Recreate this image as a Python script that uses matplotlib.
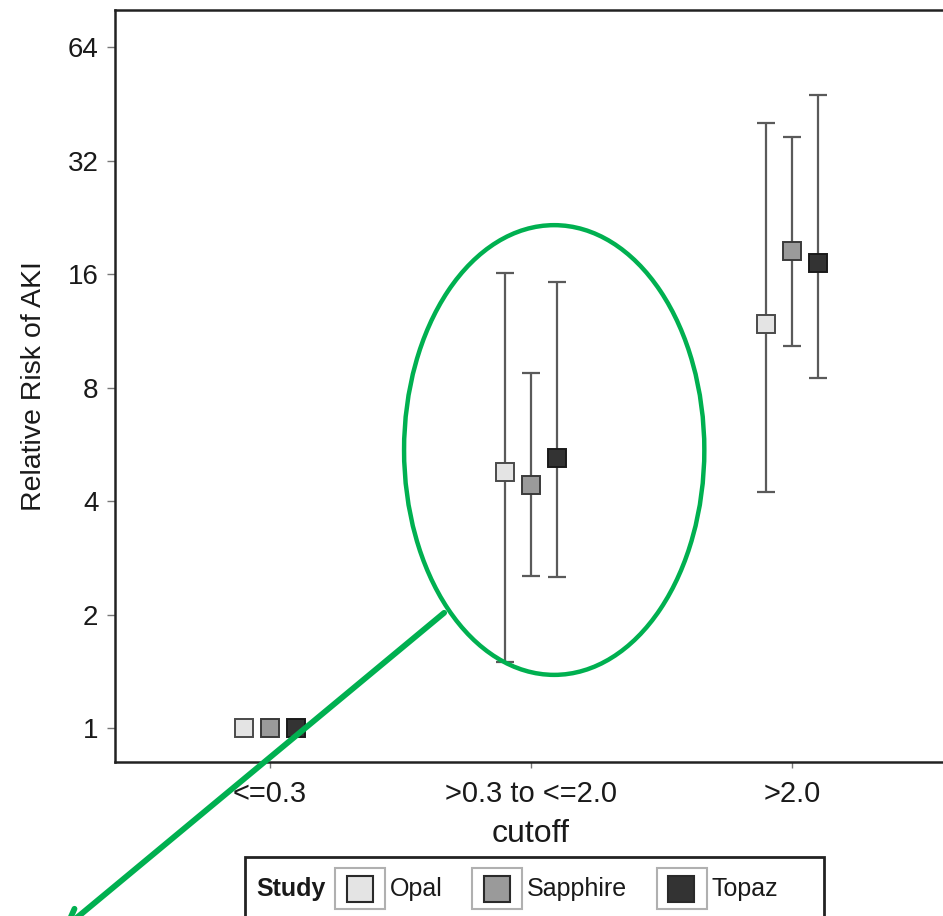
import numpy as np
import matplotlib
matplotlib.use("Agg")
import matplotlib.pyplot as plt
from matplotlib.patches import Ellipse, Rectangle
from matplotlib.offsetbox import (AnchoredOffsetbox, DrawingArea, HPacker,
                                  TextArea)

plt.rcParams["font.family"] = ["Liberation Sans", "DejaVu Sans"]

# relative risk of AKI per cutoff group and study (point, lower CI, upper CI)
cutoffs = ["<=0.3", ">0.3 to <=2.0", ">2.0"]
studies = ["Opal", "Sapphire", "Topaz"]
rr_opal = [1.0, 4.78, 11.8]
lo_opal = [1.0, 1.50, 4.23]
hi_opal = [1.0, 16.1, 40.2]
rr_sapphire = [1.0, 4.41, 18.4]
lo_sapphire = [1.0, 2.53, 10.3]
hi_sapphire = [1.0, 8.72, 37.0]
rr_topaz = [1.0, 5.21, 17.1]
lo_topaz = [1.0, 2.51, 8.49]
hi_topaz = [1.0, 15.2, 47.8]
y_ticks = [1, 2, 4, 8, 16, 32, 64]

study_data = [
    (rr_opal, lo_opal, hi_opal),
    (rr_sapphire, lo_sapphire, hi_sapphire),
    (rr_topaz, lo_topaz, hi_topaz),
]
fills = ["#e4e4e4", "#9a9a9a", "#333333"]
edges = ["#4a4a4a", "#3a3a3a", "#1a1a1a"]
offsets = [-0.1, 0.0, 0.1]

fig = plt.figure(figsize=(9.43, 9.16), dpi=100)
ax = fig.add_axes([0.122, 0.168, 0.882, 0.821])

x = np.arange(len(cutoffs))
for (rr, lo, hi), fc, ec, off in zip(study_data, fills, edges, offsets):
    rr = np.array(rr)
    err = np.vstack([rr - np.array(lo), np.array(hi) - rr])
    has_ci = err.sum(axis=0) > 0
    ax.errorbar(x[has_ci] + off, rr[has_ci], yerr=err[:, has_ci], fmt="none",
                ecolor="#5a5a5a", elinewidth=1.6, capsize=6.5, capthick=1.6,
                zorder=2)
    ax.plot(x + off, rr, linestyle="none", marker="s", markersize=13.5,
            markerfacecolor=fc, markeredgecolor=ec, markeredgewidth=1.4,
            zorder=3)

ax.set_yscale("log", base=2)
ax.set_ylim(0.8125, 80.2)
ax.set_yticks(y_ticks)
ax.set_yticklabels([str(t) for t in y_ticks])
ax.minorticks_off()
ax.set_xlim(-0.594, 2.594)
ax.set_xticks(x)
ax.set_xticklabels(cutoffs)

ax.tick_params(axis="y", labelsize=20, length=6, width=1, color="#777777",
               pad=6, labelcolor="#1a1a1a")
ax.tick_params(axis="x", labelsize=21, length=4, width=1, color="#777777",
               pad=9, labelcolor="#1a1a1a")
ax.set_xlabel("cutoff", fontsize=23, color="#1a1a1a", labelpad=8)
ax.set_ylabel("Relative Risk of AKI", fontsize=20.5, color="#1a1a1a",
              labelpad=15)
for sp in ax.spines.values():
    sp.set_linewidth(1.8)
    sp.set_color("#222222")

# green highlight around the middle group and pointer arrow
ax.add_patch(Ellipse((0.528, 0.415), 0.361, 0.598, transform=ax.transAxes,
                     fill=False, edgecolor="#00b050", linewidth=3.2,
                     clip_on=False, zorder=5))
ax.annotate("", xy=(0.0657, -0.0153), xycoords="figure fraction",
            xytext=(0.471, 0.331), textcoords="figure fraction",
            arrowprops=dict(arrowstyle="->,head_length=1.2,head_width=0.6",
                            color="#00b050", lw=4.2, shrinkA=0, shrinkB=0))

# legend strip below the axes
def legend_key(fc):
    da = DrawingArea(36, 29.5, 0, 0)
    da.add_artist(Rectangle((0, 0), 36, 29.5, facecolor="white",
                            edgecolor="#b0b0b0", linewidth=1.5))
    da.add_artist(Rectangle((8.6, 5.4), 18.7, 18.7, facecolor=fc,
                            edgecolor="#2a2a2a", linewidth=1.5))
    return da

items = []
for name, fc in zip(studies, fills):
    items.append(HPacker(children=[legend_key(fc),
                                   TextArea(name, textprops=dict(size=18, color="#1a1a1a"))],
                         align="center", pad=0, sep=3.6))

row = HPacker(children=[TextArea("Study", textprops=dict(size=18, weight="bold", color="#1a1a1a")),
                        HPacker(children=items, align="center", pad=0, sep=21)]
              + [DrawingArea(18, 1, 0, 0)],
              align="center", pad=0, sep=7)
leg = AnchoredOffsetbox(loc="upper left", child=row, pad=0.45, borderpad=0,
                        prop=dict(size=18), frameon=True,
                        bbox_to_anchor=(0.2598, 0.0644),
                        bbox_transform=fig.transFigure)
leg.patch.set_edgecolor("#222222")
leg.patch.set_linewidth(2)
fig.add_artist(leg)

fig.savefig("out.png", dpi=100)
